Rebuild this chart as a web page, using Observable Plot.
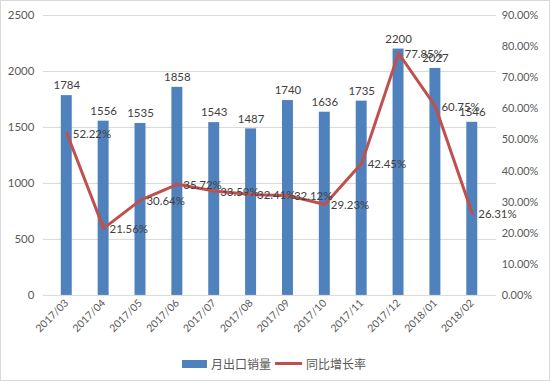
<!DOCTYPE html>
<html><head><meta charset="utf-8">
<script src="https://cdn.jsdelivr.net/npm/d3@7"></script>
<script src="https://cdn.jsdelivr.net/npm/@observablehq/plot@0.6"></script>
<style>
html,body{margin:0;padding:0;background:#fff;}
#wrap{position:relative;width:548px;height:379px;border:1px solid #d9d9d9;font-family:Lato,"Noto Sans CJK SC",sans-serif;overflow:hidden;}
#legend{position:absolute;left:0;top:354px;width:548px;display:flex;justify-content:center;align-items:center;font-family:"Noto Sans CJK SC",sans-serif;font-size:12px;color:#595959;}
.sw{display:inline-block;}
</style></head>
<body>
<div id="wrap"><div id="chart"></div>
<div id="legend">
<span class="sw" style="width:25px;height:8px;background:#4f81bd;margin-right:4px;margin-left:-2px"></span><span>月出口销量</span>
<span class="sw" style="width:27px;height:3px;background:#c0504d;margin:0 4px 0 4px"></span><span>同比增长率</span>
</div></div>
<script>
const months = ["2017/03","2017/04","2017/05","2017/06","2017/07","2017/08","2017/09","2017/10","2017/11","2017/12","2018/01","2018/02"];
const sales = [1784,1556,1535,1858,1543,1487,1740,1636,1735,2200,2027,1546];
const growth = [52.22,21.56,30.64,35.72,33.59,32.41,32.12,29.23,42.45,77.85,60.75,26.31];
const leftTicks = [0,500,1000,1500,2000,2500];
const rightTicks = [0,10,20,30,40,50,60,70,80,90];

const LMAX = 2500, RMAX = 90;
const toL = p => p / RMAX * LMAX;
const data = months.map((m,i)=>({m, s:sales[i], g:growth[i], gy: toL(growth[i])}));

const chart = Plot.plot({
  width: 550, height: 346,
  marginTop: 14, marginLeft: 42, marginRight: 53, marginBottom: 51,
  style: {fontFamily: 'Lato,"Noto Sans CJK SC",sans-serif', fontSize: "11px", color: "#595959", background: "transparent"},
  x: {domain: months, type: "band", paddingInner: 0.7, paddingOuter: 0.35, label: null},
  y: {domain: [0, LMAX], label: null},
  marks: [
    Plot.gridY(leftTicks, {stroke: "#d9d9d9", strokeOpacity: 1}),
    Plot.axisY(leftTicks, {anchor: "left", tickSize: 0, tickPadding: 9, label: null, tickFormat: d => String(d), fontSize: 11.5, fill: "#595959"}),
    Plot.axisY(rightTicks.map(toL), {anchor: "right", tickSize: 0, tickPadding: 5, textAnchor: "start", label: null,
      tickFormat: d => (d / LMAX * RMAX).toFixed(2) + "%", fontSize: 11, fill: "#595959"}),
    Plot.axisX({tickSize: 0, tickRotate: -45, tickPadding: 6, label: null, fontSize: 10.5, fill: "#595959"}),
    Plot.barY(data, {x: "m", y: "s", fill: "#4f81bd"}),
    Plot.lineY(data, {x: "m", y: "gy", stroke: "#c0504d", strokeWidth: 3, curve: "linear"}),
    Plot.text(data, {x: "m", y: "s", text: d => String(d.s), dy: -10, fill: "#404040", fontSize: 11.5}),
    Plot.text(data, {x: "m", y: "gy", text: d => d.g.toFixed(2) + "%", dx: 6, dy: 1, textAnchor: "start", fill: "#404040", fontSize: 11.5})
  ]
});
document.getElementById("chart").appendChild(chart);
</script>
</body></html>
